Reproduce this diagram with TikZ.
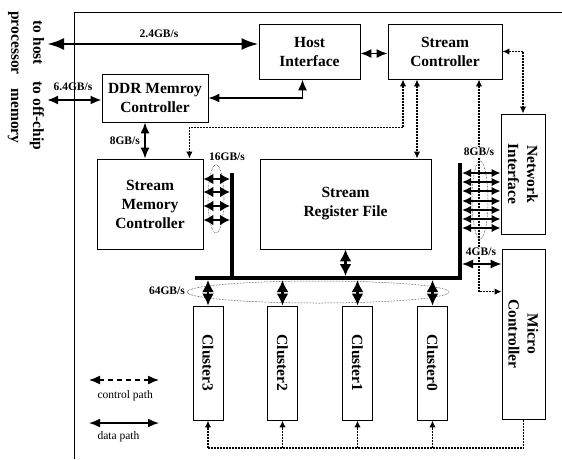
\documentclass[tikz,border=0pt]{standalone}
\usepackage{fontspec}
\setmainfont{Liberation Serif}
\usetikzlibrary{arrows.meta}

\begin{document}
\begin{tikzpicture}[x=1pt,y=-1pt,
    block/.style={draw,line width=0.8pt,inner sep=0pt,align=center,
        font=\bfseries\fontsize{15.5}{19}\selectfont},
    rate/.style={inner sep=1pt,font=\bfseries\fontsize{11.5}{13}\selectfont},
    datapath/.style={line width=1.6pt,>={Latex[length=11pt,width=9pt]},<->},
    fatpath/.style={line width=2.8pt,>={Latex[length=12pt,width=12pt]},<->},
    ctrlpath/.style={line width=1.4pt,dash pattern=on 2pt off 1pt,>={Latex[length=7pt,width=6.5pt]}},
    bus/.style={line width=4pt}]
    \useasboundingbox (0,0) rectangle (562,459);
    \draw[line width=0.8pt] (74,459) -- (74,12) -- (562,12);

    % outside world
    \node[align=center,rotate=-90,font=\bfseries\fontsize{15.5}{22}\selectfont] (hosttxt) at (26,43) {to host\\processor};
    \node[align=center,rotate=-90,font=\bfseries\fontsize{15.5}{22}\selectfont] (memtxt) at (26,116) {to off-chip\\memory};
    \coordinate (hostport) at (47,44);
    \coordinate (memport) at (47,100);

    % blocks (rotated ones: west = top, east = bottom, south = left)
    \node[block,minimum width=101pt,minimum height=55pt] (hi) at (309.5,51.5) {Host\\Interface};
    \node[block,minimum width=114pt,minimum height=55pt] (sc) at (445,51.5) {Stream\\Controller};
    \node[block,minimum width=106pt,minimum height=48pt] (ddr) at (155,98) {DDR Memroy\\Controller};
    \node[block,minimum width=106pt,minimum height=90pt] (smc) at (150,204) {Stream\\Memory\\Controller};
    \node[block,minimum width=171pt,minimum height=90pt] (srf) at (345.5,204) {Stream\\Register File};
    \node[block,rotate=-90,minimum width=120pt,minimum height=44pt] (ni) at (523,174) {Network\\Interface};
    \node[block,rotate=-90,minimum width=170pt,minimum height=43pt] (mc) at (523.5,334) {Micro\\Controller};
    \foreach \n/\x in {3/208,2/282.5,1/357.5,0/432.5}
        \node[block,rotate=-90,minimum width=114pt,minimum height=30pt] (cl\n) at (\x,363) {Cluster\n};

    % control paths
    \draw[ctrlpath,<->] (sc.east) -| (ni.west);
    \draw[ctrlpath,<->] ([xshift=-42pt]sc.south) |- ([xshift=-14pt,yshift=31pt]smc.north east) -- ([xshift=-14pt]smc.north east);
    \draw[ctrlpath,<->] ([xshift=-28pt]sc.south) -- ([xshift=-28pt]sc.south |- srf.north);
    \draw[ctrlpath,<->] ([xshift=34pt]sc.south) |- ([yshift=-43pt]mc.south west);
    \coordinate (ctrlbus) at (0,448);
    \draw[ctrlpath] (cl3.east |- ctrlbus) -| (mc.east);
    \foreach \n in {3,2,1,0}
        \draw[ctrlpath,->] (cl\n.east |- ctrlbus) -- (cl\n.east);

    % bus
    \coordinate (busW) at (195,278);
    \coordinate (busE) at (460,278);
    \coordinate (busNE) at (460,163);
    \coordinate (busN) at (232,173);
    \coordinate (busS) at (232,278);
    \draw[bus] (busW) -- (busE) -- (busNE);
    \draw[bus] (busN) -- (busS);

    % data paths
    \draw[fatpath,>={Latex[length=17pt,width=12pt]}] (hostport) -- (hostport -| hi.west);
    \draw[datapath,line width=2pt] (memport) -- (memport -| ddr.west);
    \draw[datapath] ([yshift=-2pt]hi.east) -- ([yshift=-2pt]sc.west);
    \draw[datapath] ([xshift=-7pt]hi.south) |- (ddr.east);
    \draw[datapath] ([xshift=-10pt]ddr.south) -- ([xshift=-10pt]ddr.south |- smc.north);
    \draw[fatpath,shorten >=2pt] (srf.south) -- (srf.south |- busE);
    \foreach \n in {3,2,1,0}
        \draw[fatpath,shorten <=2pt] (cl\n.west |- busE) -- (cl\n.west);
    \foreach \y in {179,192,206,220}
        \draw[fatpath,line width=2.4pt,>={Latex[length=10pt,width=11pt]},shorten >=2pt] (smc.east |- 0,\y) -- (busN |- 0,\y);
    \foreach \y in {173,182,191,201,210,219,228}
        \draw[fatpath,line width=2pt,>={Latex[length=9pt,width=8.5pt]},shorten <=2pt] (busNE |- 0,\y) -- (ni.south |- 0,\y);
    \draw[datapath,line width=1.4pt,shorten <=2pt] (busNE |- 0,264) -- (mc.south |- 0,264);

    % groups
    \draw[densely dotted,line width=0.5pt] (216,199) ellipse [x radius=8pt,y radius=34pt];
    \draw[densely dotted,line width=0.5pt] (480,200) ellipse [x radius=8pt,y radius=39pt];
    \draw[densely dotted,line width=0.5pt] (318,292) ellipse [x radius=131pt,y radius=11pt];

    % rates
    \node[rate] (r24) at (159,34) {2.4GB/s};
    \node[rate] (r64) at (73,87) {6.4GB/s};
    \node[rate,anchor=east] (r8a) at (141,141) {8GB/s};
    \node[rate] (r16) at (227,157) {16GB/s};
    \node[rate,fill=white] (r8b) at (479,152) {8GB/s};
    \node[rate,fill=white] (r4) at (481,252) {4GB/s};
    \node[rate,anchor=east] (r64b) at (186,291) {64GB/s};

    % legend
    \coordinate (ctrlL) at (89,380);
    \coordinate (ctrlR) at (159,380);
    \coordinate (dataL) at (89,423);
    \coordinate (dataR) at (159,423);
    \draw[datapath,line width=1.4pt,dash pattern=on 5pt off 4pt] (ctrlL) -- (ctrlR);
    \draw[datapath] (dataL) -- (dataR);
    \node[anchor=west,font=\fontsize{11.5}{13}\selectfont] (ctrltxt) at (94,396) {control path};
    \node[anchor=west,font=\fontsize{11.5}{13}\selectfont] (datatxt) at (94,437) {data path};
\end{tikzpicture}
\end{document}
